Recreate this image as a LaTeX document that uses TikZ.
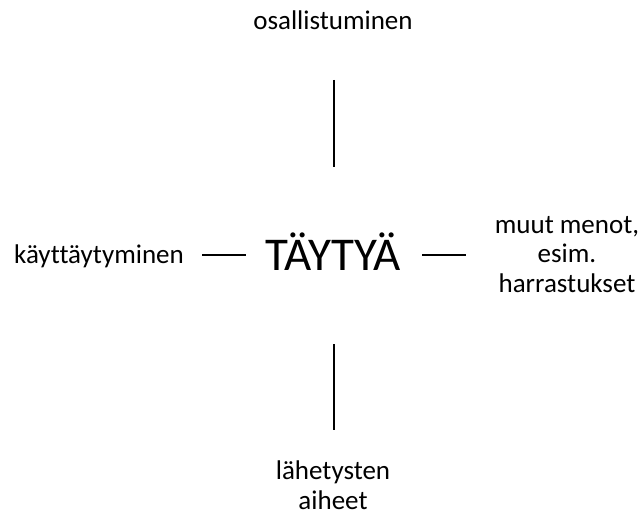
\documentclass[tikz,border=0pt]{standalone}
\usepackage{fontspec}
\setmainfont{Carlito}[Ligatures={NoCommon}]
\begin{document}
\begin{tikzpicture}[x=1pt,y=-1pt,
  lbl/.style={font=\fontsize{27}{29.5}\selectfont, align=center, inner sep=0pt},
  big/.style={font=\fontsize{47}{50}\selectfont, inner sep=0pt},
  conn/.style={line width=1.8pt}]
\useasboundingbox (0,0) rectangle (643,516);
\node[big, anchor=base] (c) at (333,270) {TÄYTYÄ};
\node[lbl, anchor=base] (t) at (333,30) {osallistuminen};
\node[lbl, anchor=base] (l) at (99,263) {käyttäytyminen};
\node[lbl, anchor=base] (r) at (567,292) {muut menot,\\esim.\\harrastukset};
\node[lbl, anchor=base, font=\fontsize{27}{30}\selectfont] (b) at (333,509) {lähetysten\\aiheet};
\coordinate (t1) at (334,80); \coordinate (t2) at (334,167);
\coordinate (b1) at (334,344); \coordinate (b2) at (334,430);
\coordinate (l1) at (202,255); \coordinate (l2) at (246,255);
\coordinate (r1) at (422,255); \coordinate (r2) at (466,255);
\draw[conn] (t1) -- (t2);
\draw[conn] (b1) -- (b2);
\draw[conn] (l1) -- (l2);
\draw[conn] (r1) -- (r2);
\end{tikzpicture}
\end{document}
